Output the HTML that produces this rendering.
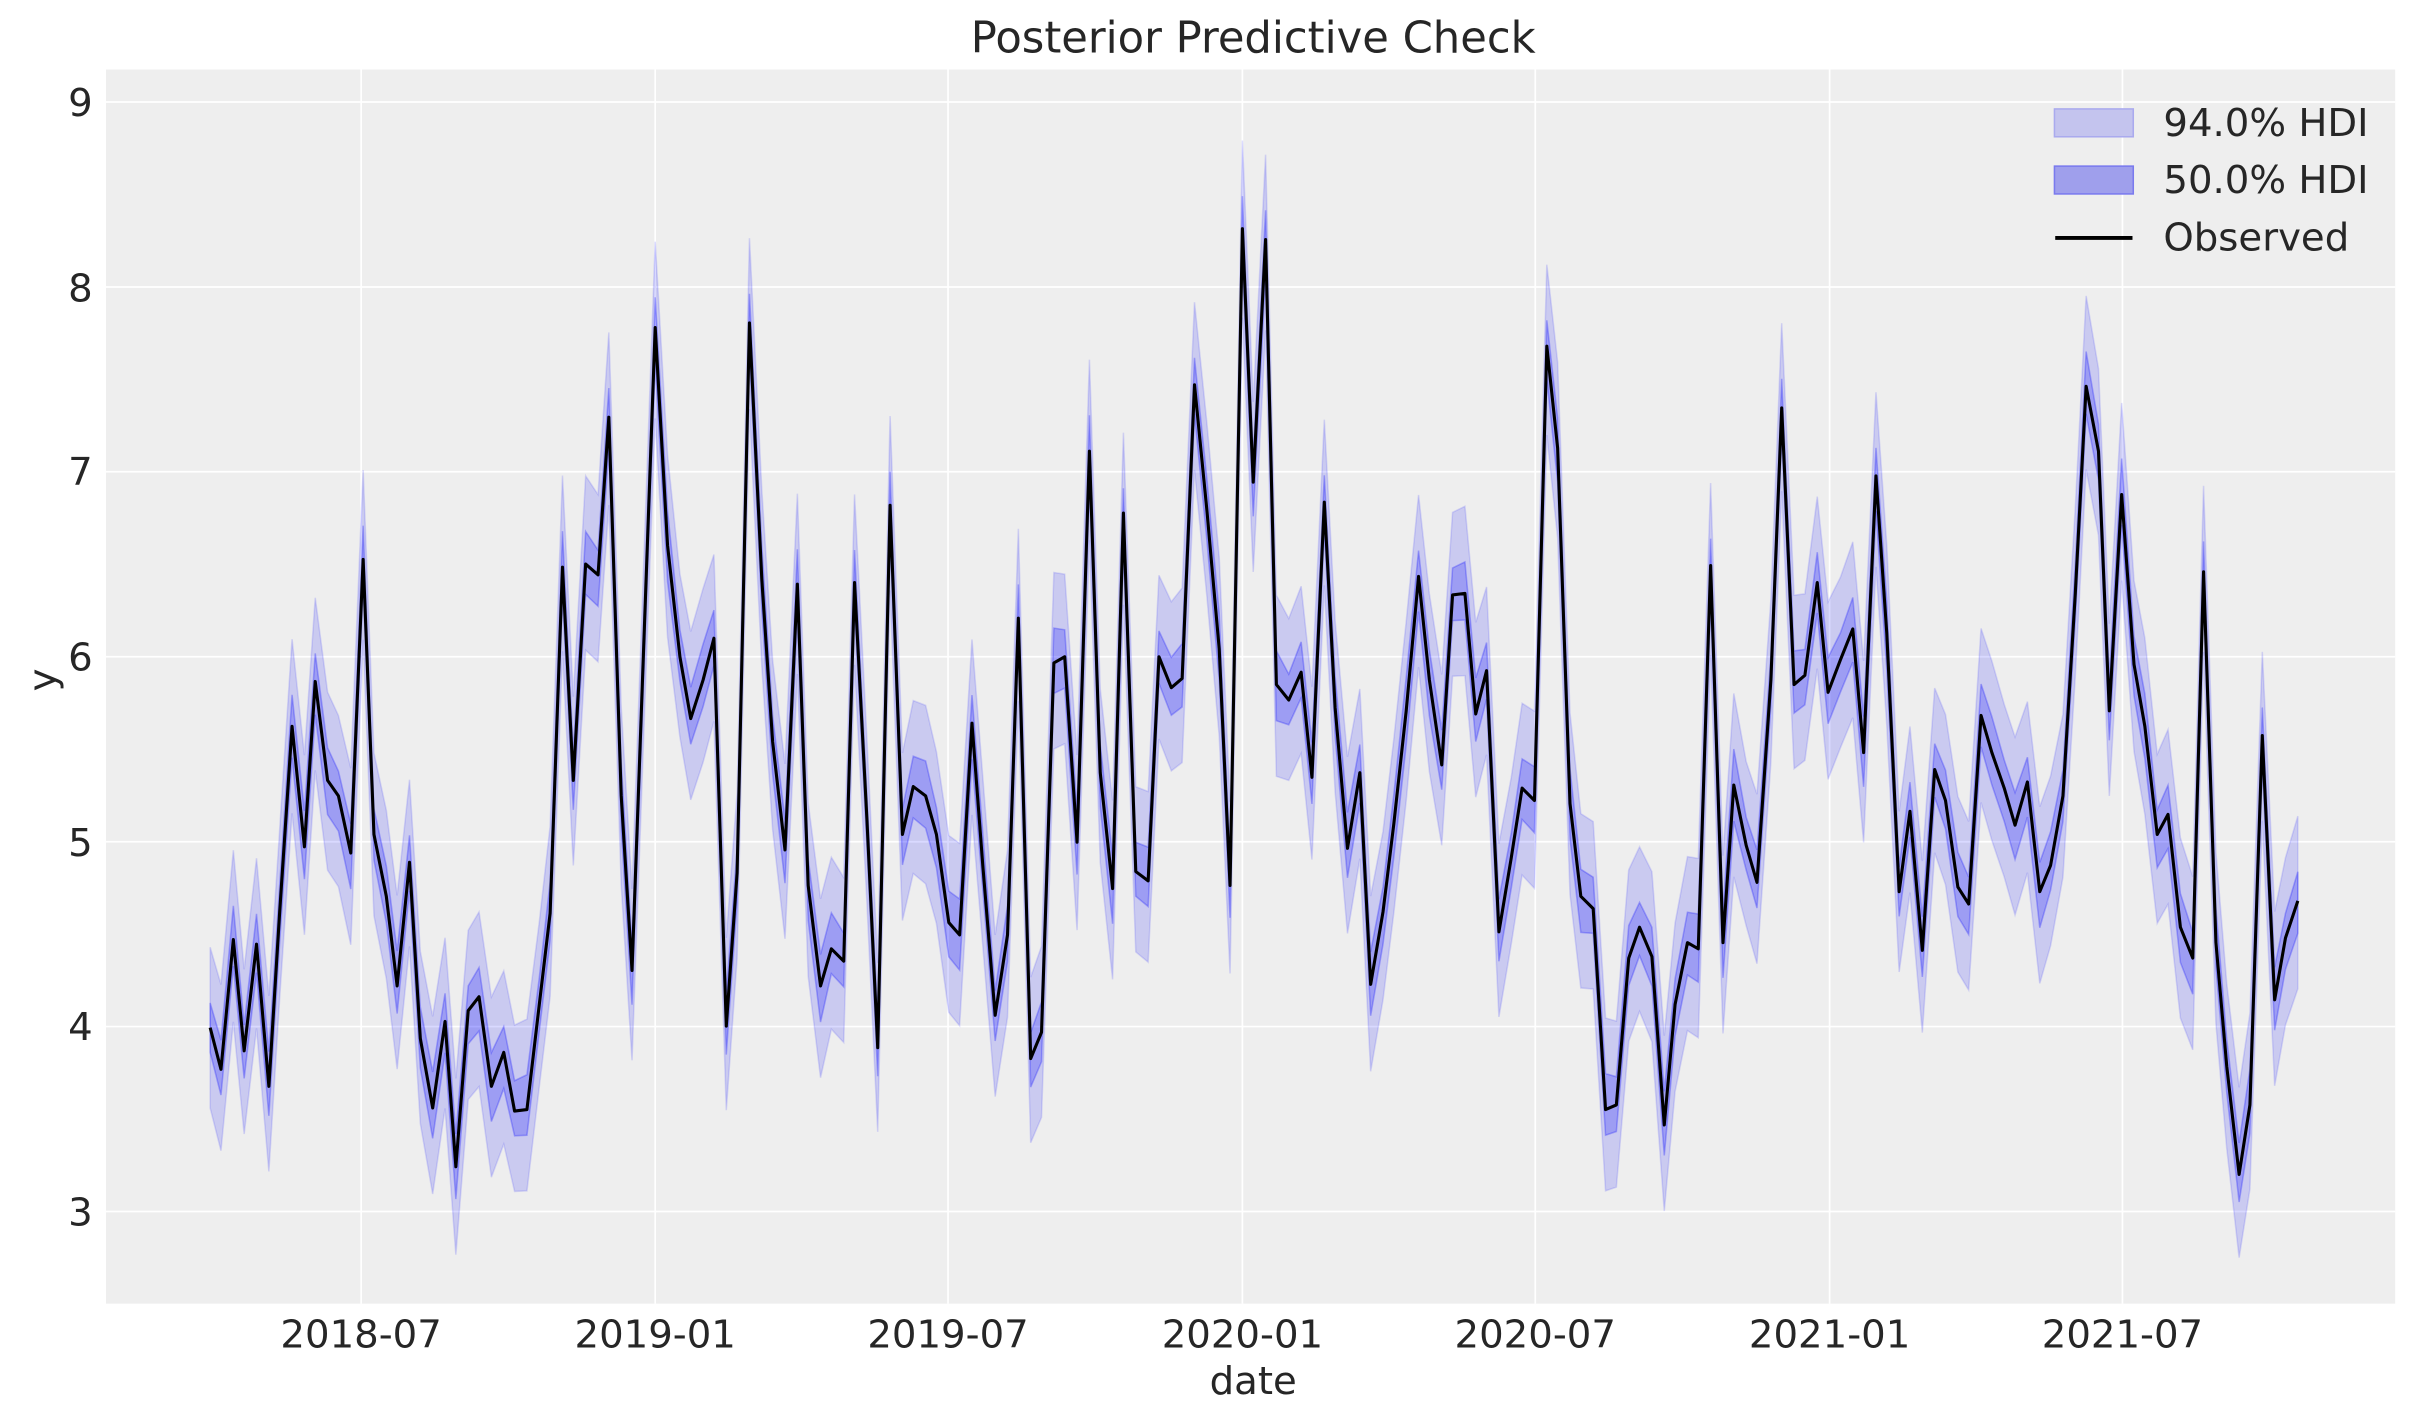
<!DOCTYPE html>
<html><head><meta charset="utf-8"><style>html,body{margin:0;padding:0;background:#fff}svg{display:block}text{font-family:"DejaVu Sans","Liberation Sans",sans-serif;fill:#262626}</style></head>
<body>
<svg id="s" width="2423" height="1423" viewBox="0 0 1568 920.85" preserveAspectRatio="none" xmlns="http://www.w3.org/2000/svg">
<rect x="68.6" y="45" width="1481.4" height="798.6" fill="#eeeeee"/>
<g stroke="#fff" stroke-width="1.1">
<line x1="68.6" x2="1550" y1="66" y2="66"/><line x1="68.6" x2="1550" y1="185.7" y2="185.7"/><line x1="68.6" x2="1550" y1="305.3" y2="305.3"/><line x1="68.6" x2="1550" y1="425" y2="425"/><line x1="68.6" x2="1550" y1="544.7" y2="544.7"/><line x1="68.6" x2="1550" y1="664.3" y2="664.3"/><line x1="68.6" x2="1550" y1="784" y2="784"/>
<line y1="45" y2="843.6" x1="233.7" x2="233.7"/><line y1="45" y2="843.6" x1="424" x2="424"/><line y1="45" y2="843.6" x1="613.5" x2="613.5"/><line y1="45" y2="843.6" x1="804" x2="804"/><line y1="45" y2="843.6" x1="993.5" x2="993.5"/><line y1="45" y2="843.6" x1="1184" x2="1184"/><line y1="45" y2="843.6" x1="1373.5" x2="1373.5"/>
</g>
<g id="bands"></g>
<polyline id="obs" fill="none" stroke="#000" stroke-width="2" stroke-linejoin="round"/>
<g font-size="25" text-anchor="end">
<text x="60" y="75">9</text><text x="60" y="195">8</text><text x="60" y="314">7</text><text x="60" y="434">6</text><text x="60" y="554">5</text><text x="60" y="673">4</text><text x="60" y="793">3</text>
</g>
<g font-size="25" text-anchor="middle">
<text x="233.7" y="872">2018-07</text><text x="424" y="872">2019-01</text><text x="613.5" y="872">2019-07</text><text x="804" y="872">2020-01</text><text x="993.5" y="872">2020-07</text><text x="1184" y="872">2021-01</text><text x="1373.5" y="872">2021-07</text>
<text x="811" y="902">date</text>
<text x="811" y="34" font-size="28">Posterior Predictive Check</text>
</g>
<text x="0" y="0" font-size="25" text-anchor="middle" transform="translate(36,440) rotate(-90)">y</text>
<rect x="1329.5" y="70.5" width="51" height="18" fill="#c4c4ee" stroke="#aaaaee" stroke-width="1"/>
<rect x="1329.5" y="107.5" width="51" height="18" fill="#9f9fec" stroke="#7a7aee" stroke-width="1"/>
<line x1="1330" x2="1380" y1="154" y2="154" stroke="#000" stroke-width="2.5"/>
<g font-size="25"><text x="1400" y="88">94.0% HDI</text><text x="1400" y="125">50.0% HDI</text><text x="1400" y="162">Observed</text></g>
</svg>
<script>
var d=[136,665,143,692,151,608,158,680,166,611,174,703,181,590,189,470,197,548,204,441,212,505,219,515,227,552,235,362,242,540,250,580,257,638,265,558,272,672,280,717,288,661,295,755,303,654,310,645,318,703,326,681,333,719,341,718,349,650,356,591,364,367,371,505,379,365,387,372,394,270,402,515,409,628,424,212,432,353,440,425,447,465,455,440,462,413,470,664,477,565,485,209,493,375,500,480,508,550,516,378,523,573,531,638,538,614,546,622,553,377,561,530,568,678,576,327,584,540,591,509,599,515,606,540,614,597,621,605,629,468,636,560,644,657,652,605,659,400,667,685,674,668,682,429,689,425,697,545,705,292,712,500,720,575,727,332,735,564,743,570,750,425,758,445,765,439,773,249,781,330,789,420,796,573,804,148,811,312,819,155,826,443,834,453,842,435,849,503,857,325,864,458,872,549,880,500,887,637,895,590,902,533,910,460,918,373,925,440,933,495,940,385,948,384,955,462,962,434,970,603,978,555,985,510,993,518,1001,224,1008,290,1016,520,1023,580,1031,588,1039,718,1046,715,1054,620,1061,600,1069,619,1077,728,1084,650,1092,610,1099,614,1107,366,1115,610,1122,508,1130,547,1137,571,1146,440,1153,264,1161,443,1168,437,1176,377,1183,448,1191,427,1199,407,1206,487,1214,308,1221,410,1229,577,1236,525,1244,615,1252,498,1259,518,1267,574,1274,585,1282,463,1289,487,1297,510,1304,534,1312,506,1320,577,1327,560,1335,515,1343,384,1350,250,1358,292,1365,460,1373,320,1381,430,1388,470,1396,540,1403,527,1411,600,1419,620,1426,370,1434,610,1441,690,1449,760,1456,715,1464,476,1472,647,1479,607,1487,583];
var p=[];for(var i=0;i<d.length;i+=2)p.push([d[i],d[i+1]]);
document.getElementById('obs').setAttribute('points',p.map(function(a){return a.join(',')}).join(' '));
function band(lo,hi){var up=p.map(function(a,i){var w=(i*37%11)/11;return a[0]+','+(a[1]-lo-w*8)}),dn=p.slice().reverse().map(function(a,j){var i=p.length-1-j;var w=(i*53%13)/13;return a[0]+','+(a[1]+hi+w*8)});return up.concat(dn).join(' ');}
var g=document.getElementById('bands');
g.innerHTML='<polygon points="'+band(52,52)+'" fill="#0000ff" fill-opacity="0.15" stroke="#0000ff" stroke-opacity="0.12"/>'+
'<polygon points="'+band(16,16)+'" fill="#0000ff" fill-opacity="0.22" stroke="#0000ff" stroke-opacity="0.25"/>';
</script>
</body></html>
